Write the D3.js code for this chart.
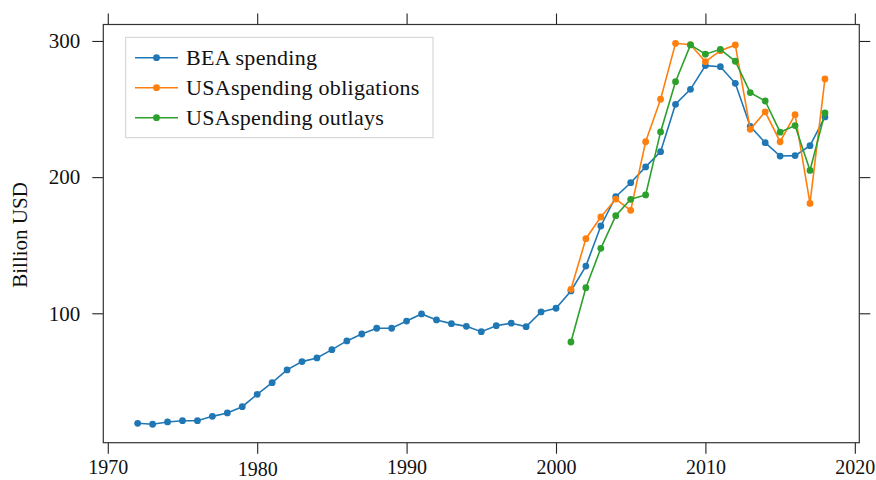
<!DOCTYPE html>
<html><head><meta charset="utf-8">
<script src="https://cdn.jsdelivr.net/npm/d3@7"></script>
<style>
body{margin:0;background:#fff;}
text{font-family:"Liberation Serif",serif;fill:#111;}
</style></head>
<body><svg id="c" width="876" height="480"></svg>
<script>
const beaYears = d3.range(1972, 2019);
const beaValues = [19.2,18.5,20.2,21.1,21.1,24.3,26.8,31.4,40.5,49.0,58.4,64.5,67.2,73.3,79.7,84.8,89.0,89.0,94.3,99.5,95.1,92.4,90.4,86.5,90.9,92.7,90.2,101.0,103.7,116.4,134.7,164.1,185.6,195.9,207.5,218.7,253.5,264.5,281.9,281.1,268.9,237.3,225.3,215.5,215.8,223.1,244.2];
const usaYears = d3.range(2001, 2019);
const obligations = [117.6,154.8,170.7,183.9,175.6,226.0,257.2,298.3,297.3,284.8,292.9,297.1,235.1,248.0,226.0,245.9,180.7,272.1];
const outlays = [78.9,118.8,147.7,171.7,183.7,186.9,233.2,270.1,297.1,290.3,293.9,285.1,262.1,255.9,233.0,237.9,204.9,247.1];
const seriesNames = ["BEA spending","USAspending obligations","USAspending outlays"];
const seriesColors = ["#1f77b4","#ff7f0e","#2ca02c"];
const xTicks = [1970,1980,1990,2000,2010,2020];
const yTicks = [100,200,300];
const yLabel = "Billion USD";

const series = [
  {name:seriesNames[0], color:seriesColors[0], pts:beaYears.map((y,i)=>[y,beaValues[i]])},
  {name:seriesNames[1], color:seriesColors[1], pts:usaYears.map((y,i)=>[y,obligations[i]])},
  {name:seriesNames[2], color:seriesColors[2], pts:usaYears.map((y,i)=>[y,outlays[i]])}
];

const L=103.3, R=859.3, T=24.5, B=442.7;
const x = d3.scaleLinear().domain([1969.7,2020.3]).range([L,R]);
const y = d3.scaleLinear().domain([4.95,312.1]).range([B,T]);
const svg = d3.select("#c");

const axStyle = g=>{g.select(".domain").remove(); g.selectAll(".tick line").attr("stroke","#222").attr("stroke-width",1.1);};
svg.append("g").attr("transform",`translate(0,${B})`)
  .call(d3.axisBottom(x).tickValues(xTicks).tickFormat(d3.format("d")).tickSizeOuter(0).tickSize(11))
  .call(axStyle)
  .call(g=>g.selectAll(".tick text").attr("font-size",20).attr("dy",0).attr("y",d=>d===1980?33.5:31));
svg.append("g").attr("transform",`translate(0,${T})`)
  .call(d3.axisTop(x).tickValues(xTicks).tickFormat("").tickSize(11))
  .call(axStyle);
svg.append("g").attr("transform",`translate(${L},0)`)
  .call(d3.axisLeft(y).tickValues(yTicks).tickFormat(d3.format("d")).tickSize(11).tickPadding(12))
  .call(axStyle)
  .call(g=>g.selectAll(".tick text").attr("font-size",21));
svg.append("g").attr("transform",`translate(${R},0)`)
  .call(d3.axisRight(y).tickValues(yTicks).tickFormat("").tickSize(11))
  .call(axStyle);

svg.append("rect").attr("x",L).attr("y",T).attr("width",R-L).attr("height",B-T)
  .attr("fill","none").attr("stroke","#333").attr("stroke-width",1.2);

svg.append("text").attr("transform",`translate(27,235) rotate(-90)`)
  .attr("text-anchor","middle").attr("font-size",21).text(yLabel);

const line = d3.line().x(d=>x(d[0])).y(d=>y(d[1]));
series.forEach(s=>{
  const g = svg.append("g");
  g.append("path").attr("d",line(s.pts)).attr("fill","none").attr("stroke",s.color).attr("stroke-width",1.6);
  g.selectAll("circle").data(s.pts).join("circle")
    .attr("cx",d=>x(d[0])).attr("cy",d=>y(d[1])).attr("r",3.4).attr("fill",s.color);
});

const lg = svg.append("g");
lg.append("rect").attr("x",125.7).attr("y",37.3).attr("width",307.3).attr("height",100.4)
  .attr("fill","#fff").attr("fill-opacity",0.8).attr("stroke","#d0d0d0").attr("stroke-width",1);
series.forEach((s,i)=>{
  const cy = 57.7 + i*30;
  lg.append("line").attr("x1",135).attr("x2",178).attr("y1",cy).attr("y2",cy).attr("stroke",s.color).attr("stroke-width",1.6);
  lg.append("circle").attr("cx",156.5).attr("cy",cy).attr("r",3.4).attr("fill",s.color);
  lg.append("text").attr("x",186).attr("y",cy).attr("dy","0.33em").attr("font-size",22).attr("letter-spacing","0.3px").text(s.name);
});
</script></body></html>
